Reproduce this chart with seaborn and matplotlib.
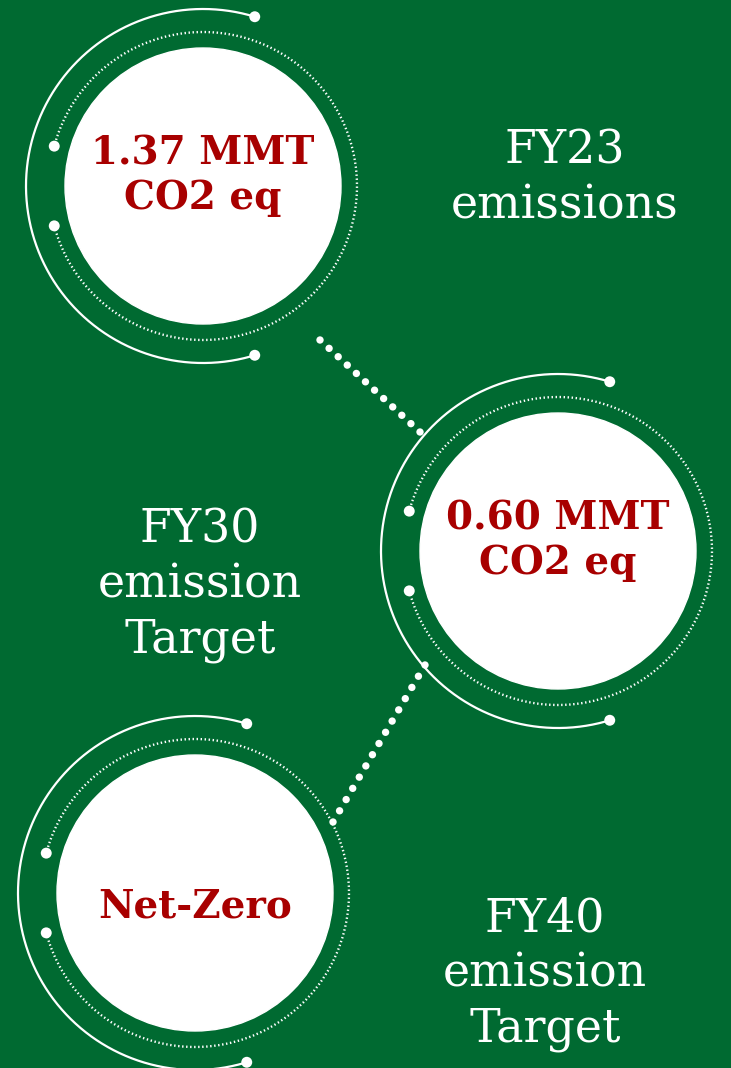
import numpy as np
import matplotlib.pyplot as plt
import seaborn as sns
import pandas as pd

# data
values = ['1.37 MMT\nCO2 eq', '0.60 MMT\nCO2 eq', 'Net-Zero']
captions = ['FY23\nemissions', 'FY30\nemission\nTarget', 'FY40\nemission\nTarget']

# layout (pixel coords, y down)
centers = [(203, 186), (558, 551), (195, 893)]
caption_pos = [(565, 178), (200, 585), (545, 974)]
links = [((320, 340), (420, 432), 12), ((425, 665), (333, 822), 15)]
r_disc, r_dot, r_solid = 138, 154, 177

green = '#006A31'
red = '#A80000'

sns.set_style('white')
fig = plt.figure(figsize=(7.31, 10.68), dpi=100)
fig.patch.set_facecolor(green)
ax = fig.add_axes([0, 0, 1, 1])
ax.set_facecolor(green)
ax.set_xlim(0, 731)
ax.set_ylim(1068, 0)
ax.set_aspect('equal')
ax.axis('off')


def arc(cx, cy, r, a0, a1, n=300):
    t = np.radians(np.linspace(a0, a1, n))
    return pd.DataFrame({'x': cx + r * np.cos(t), 'y': cy - r * np.sin(t)})


for (cx, cy), val in zip(centers, values):
    ax.add_patch(plt.Circle((cx, cy), r_disc, color='white', zorder=3))
    solid = arc(cx, cy, r_solid, 73, 287)
    sns.lineplot(x='x', y='y', data=solid, sort=False, estimator=None,
                 color='white', linewidth=1.6, ax=ax)
    dotted = arc(cx, cy, r_dot, -165, 165)
    sns.lineplot(x='x', y='y', data=dotted, sort=False, estimator=None,
                 color='white', linewidth=1.7, linestyle=(0, (0.6, 1.1)), ax=ax)
    ends = pd.concat([solid.iloc[[0, -1]], dotted.iloc[[0, -1]]])
    sns.scatterplot(x='x', y='y', data=ends, color='white', s=62,
                    edgecolor='none', ax=ax, zorder=4)
    ax.text(cx, cy - 10 if '\n' in val else cy + 14, val, ha='center', va='center',
            color=red, fontsize=28, fontweight='bold', family='DejaVu Serif',
            linespacing=1.22, zorder=5)

for (p0, p1, n) in links:
    pts = pd.DataFrame({'x': np.linspace(p0[0], p1[0], n),
                        'y': np.linspace(p0[1], p1[1], n)})
    sns.scatterplot(x='x', y='y', data=pts, color='white', s=28,
                    edgecolor='none', ax=ax, zorder=4)

for (x, y), cap in zip(caption_pos, captions):
    ax.text(x, y, cap, ha='center', va='center', color='white',
            fontsize=33, family='DejaVu Serif', linespacing=1.28)

plt.savefig('out.png', dpi=100, facecolor=green)
